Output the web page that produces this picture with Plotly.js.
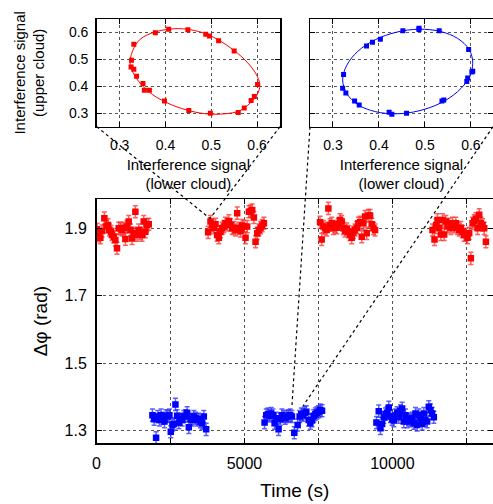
<!DOCTYPE html>
<html>
<head>
<meta charset="utf-8">
<script src="https://cdn.plot.ly/plotly-3.0.1.min.js"></script>
<style>html,body{margin:0;padding:0;background:#fff;}#chart{width:493px;height:504px;}</style>
</head>
<body>
<div id="chart"></div>
<script>
// ---- main panel data: time (s) and phase difference (rad) ----
const redTime = [20,74,130,186,265,333,389,435,491,525,581,638,694,750,807,863,920,976,1032,1089,1145,1202,1258,1314,1371,1427,1484,1540,1596,1653,1709,1766,
  3773,3852,3909,3965,4022,4078,4134,4191,4247,4304,4360,4416,4473,4529,4586,4642,4698,4755,4811,4868,4924,4980,5037,5093,5150,5206,5262,5319,5375,5432,5488,5544,5601,5657,
  7554,7610,7667,7723,7779,7836,7892,7949,8005,8061,8118,8174,8231,8287,8343,8400,8456,8513,8569,8625,8682,8738,8795,8851,8907,8964,9020,9077,9133,9189,9246,9302,9359,9415,
  11355,11423,11479,11524,11581,11637,11694,11750,11806,11863,11919,11976,12032,12088,12145,12201,12258,12314,12370,12427,12483,12540,12596,12652,12709,12765,12821,12878,12934,12991,13047,13103,13160];
const redPhase = [1.897,1.878,1.872,1.892,1.930,1.905,1.910,1.895,1.890,1.882,1.875,1.865,1.841,1.900,1.900,1.895,1.900,1.868,1.905,1.920,1.895,1.870,1.885,1.949,1.880,1.895,1.885,1.880,1.920,1.890,1.910,1.912,
  1.888,1.920,1.908,1.902,1.912,1.880,1.872,1.890,1.900,1.905,1.915,1.910,1.922,1.910,1.900,1.902,1.895,1.945,1.900,1.892,1.908,1.905,1.872,1.905,1.949,1.951,1.954,1.932,1.860,1.885,1.895,1.902,1.908,1.915,
  1.918,1.867,1.905,1.900,1.895,1.959,1.910,1.915,1.900,1.905,1.902,1.912,1.925,1.920,1.900,1.892,1.898,1.890,1.882,1.872,1.888,1.895,1.902,1.915,1.918,1.875,1.915,1.935,1.885,1.938,1.938,1.912,1.900,1.895,
  1.895,1.867,1.910,1.925,1.902,1.882,1.925,1.882,1.920,1.905,1.912,1.900,1.915,1.905,1.915,1.900,1.895,1.902,1.890,1.880,1.882,1.872,1.885,1.811,1.915,1.922,1.928,1.900,1.940,1.915,1.910,1.900,1.860];
const blueTime = [1890,1947,2014,2071,2127,2183,2240,2296,2353,2409,2465,2511,2567,2623,2668,2725,2781,2838,2894,2950,3007,3063,3120,3176,3232,3289,3345,3402,3458,3514,3571,3627,3706,
  5680,5737,5793,5849,5906,5962,6019,6075,6154,6210,6267,6323,6380,6436,6492,6549,6605,6684,6798,6866,6922,6979,7035,7091,7170,7227,7283,7340,7396,7452,7509,7565,7622,
  9460,9539,9596,9652,9708,9765,9821,9878,9934,9990,10047,10103,10160,10216,10272,10329,10385,10442,10498,10554,10611,10667,10724,10780,10836,10893,10949,11006,11062,11118,11175,11231,11288,11344,11400];
const bluePhase = [1.346,1.334,1.279,1.342,1.332,1.346,1.337,1.327,1.344,1.342,1.346,1.297,1.317,1.320,1.378,1.344,1.324,1.334,1.332,1.342,1.344,1.353,1.310,1.334,1.332,1.342,1.337,1.332,1.334,1.327,1.322,1.342,1.304,
  1.324,1.346,1.349,1.344,1.351,1.346,1.322,1.337,1.304,1.334,1.346,1.342,1.337,1.342,1.344,1.346,1.342,1.294,1.317,1.342,1.349,1.346,1.353,1.356,1.332,1.322,1.330,1.344,1.349,1.353,1.356,1.361,1.359,
  1.324,1.358,1.307,1.320,1.340,1.349,1.353,1.369,1.342,1.334,1.330,1.346,1.353,1.340,1.359,1.366,1.327,1.346,1.327,1.334,1.330,1.337,1.322,1.351,1.317,1.346,1.337,1.320,1.351,1.332,1.327,1.371,1.361,1.351,1.340];
const phaseError = 0.018;

// ---- inset 1 (red): measured points and fitted ellipse ----
const red1Lower = [0.331,0.378,0.407,0.449,0.488,0.496,0.516,0.550,0.601,0.594,0.587,0.572,0.559,0.498,0.451,0.398,0.365,0.354,0.351,0.337,0.331,0.325,0.326];
const red1Upper = [0.556,0.599,0.612,0.610,0.593,0.587,0.569,0.531,0.407,0.362,0.347,0.319,0.303,0.300,0.310,0.345,0.385,0.385,0.410,0.437,0.463,0.472,0.497];
const red1FitX = [0.323,0.328,0.345,0.378,0.420,0.455,0.490,0.518,0.550,0.578,0.598,0.606,0.600,0.585,0.562,0.530,0.495,0.455,0.415,0.380,0.352,0.333,0.323];
const red1FitY = [0.480,0.530,0.575,0.602,0.614,0.610,0.594,0.570,0.533,0.490,0.445,0.405,0.368,0.338,0.309,0.298,0.297,0.308,0.330,0.360,0.398,0.440,0.480];

// ---- inset 2 (blue): measured points and fitted ellipse ----
const blue2Lower = [0.323,0.321,0.328,0.347,0.357,0.422,0.428,0.460,0.537,0.541,0.591,0.593,0.602,0.604,0.595,0.531,0.487,0.487,0.452,0.403,0.386,0.373];
const blue2Upper = [0.444,0.393,0.375,0.345,0.331,0.304,0.296,0.300,0.345,0.349,0.418,0.431,0.453,0.456,0.537,0.606,0.611,0.616,0.606,0.575,0.564,0.550];
const blue2FitX = [0.604,0.596,0.571,0.533,0.487,0.438,0.392,0.354,0.330,0.321,0.330,0.354,0.392,0.438,0.487,0.533,0.571,0.596,0.604];
const blue2FitY = [0.486,0.537,0.578,0.604,0.612,0.601,0.573,0.530,0.478,0.424,0.373,0.332,0.306,0.298,0.309,0.337,0.380,0.432,0.486];

const mainXTicks = [0, 2500, 5000, 7500, 10000, 12500];
const mainXLabels = ['0', '', '5000', '', '10000', ''];
const mainYTicks = [1.3, 1.5, 1.7, 1.9];
const insetTicks = [0.3, 0.4, 0.5, 0.6];
const insetLabels = ['0.3', '0.4', '0.5', '0.6'];

const FONT = 'Liberation Sans, Arial, Helvetica, sans-serif';
const RED = '#ff0000', BLUE = '#0000ff';
const W = 493, H = 504;
const px = v => v / W, py = v => 1 - v / H;

const traces = [
  {x: redTime, y: redPhase, type: 'scatter', mode: 'markers', xaxis: 'x', yaxis: 'y',
   marker: {symbol: 'square', size: 6.5, color: RED},
   error_y: {type: 'constant', value: phaseError, color: 'rgba(255,40,40,0.75)', thickness: 1.5, width: 2.5}},
  {x: blueTime, y: bluePhase, type: 'scatter', mode: 'markers', xaxis: 'x', yaxis: 'y',
   marker: {symbol: 'square', size: 6.5, color: BLUE},
   error_y: {type: 'constant', value: phaseError, color: 'rgba(40,40,255,0.75)', thickness: 1.5, width: 2.5}},
  {x: red1FitX, y: red1FitY, type: 'scatter', mode: 'lines', xaxis: 'x2', yaxis: 'y2',
   line: {color: RED, width: 1, shape: 'spline', smoothing: 1}},
  {x: red1Lower, y: red1Upper, type: 'scatter', mode: 'markers', xaxis: 'x2', yaxis: 'y2',
   marker: {symbol: 'square', size: 5, color: RED}},
  {x: blue2FitX, y: blue2FitY, type: 'scatter', mode: 'lines', xaxis: 'x3', yaxis: 'y3',
   line: {color: BLUE, width: 1, shape: 'spline', smoothing: 1}},
  {x: blue2Lower, y: blue2Upper, type: 'scatter', mode: 'markers', xaxis: 'x3', yaxis: 'y3',
   marker: {symbol: 'square', size: 5, color: BLUE}}
];

const axBase = {
  showline: true, linecolor: '#000', linewidth: 1.5, mirror: 'ticks',
  ticks: 'inside', ticklen: 5, tickcolor: '#000', tickwidth: 1,
  showgrid: true, gridcolor: '#555', griddash: 'dot', gridwidth: 1,
  zeroline: false, automargin: false
};

const layout = {
  width: W, height: H,
  margin: {l: 0, r: 0, t: 0, b: 0},
  paper_bgcolor: '#fff', plot_bgcolor: 'rgba(0,0,0,0)',
  showlegend: false,
  font: {family: FONT, color: '#000'},
  xaxis: Object.assign({}, axBase, {
    domain: [px(96.5), 1], anchor: 'y', range: [0, 13400],
    tickvals: mainXTicks, ticktext: mainXLabels, tickfont: {size: 16},
    ticklabelstandoff: 5,
    title: {text: 'Time (s)', font: {size: 19}, standoff: 13}
  }),
  yaxis: Object.assign({}, axBase, {
    domain: [py(443), py(199.3)], anchor: 'x', range: [1.2635, 1.986],
    tickvals: mainYTicks, tickformat: '.1f', tickfont: {size: 16},
    ticklabelstandoff: 5,
    title: {text: 'Δφ (rad)', font: {size: 19}, standoff: 12}
  }),
  xaxis2: Object.assign({}, axBase, {
    domain: [px(96.7), px(280)], anchor: 'y2', range: [0.25, 0.65],
    tickvals: insetTicks, ticktext: insetLabels, tickfont: {size: 14},
    ticklabelstandoff: 5,
    title: {text: 'Interference signal<br>(lower cloud)', font: {size: 15}, standoff: 7}
  }),
  yaxis2: Object.assign({}, axBase, {
    domain: [py(126.7), py(19)], anchor: 'x2', range: [0.25, 0.65],
    tickvals: insetTicks, ticktext: insetLabels, tickfont: {size: 14},
    ticklabelstandoff: 4,
    title: {text: 'Interference signal<br>(upper cloud)', font: {size: 15}, standoff: 20}
  }),
  xaxis3: Object.assign({}, axBase, {
    domain: [px(310), 1], anchor: 'y3', range: [0.25, 0.648],
    tickvals: insetTicks, ticktext: insetLabels, tickfont: {size: 14},
    ticklabelstandoff: 5,
    title: {text: 'Interference signal<br>(lower cloud)', font: {size: 15}, standoff: 7}
  }),
  yaxis3: Object.assign({}, axBase, {
    domain: [py(126.7), py(19)], anchor: 'x3', range: [0.25, 0.65],
    tickvals: insetTicks, showticklabels: false
  }),
  shapes: [
    [96.7, 126.7, 210, 218.5], [280, 126.7, 210, 218.5],
    [310, 126.7, 292, 405], [493, 126.7, 303, 406]
  ].map(s => ({type: 'line', xref: 'paper', yref: 'paper',
    x0: px(s[0]), y0: py(s[1]), x1: px(s[2]), y1: py(s[3]),
    line: {color: '#000', width: 1.2, dash: 'dot'}, layer: 'above'}))
};

Plotly.newPlot('chart', traces, layout, {staticPlot: true, displayModeBar: false});
</script>
</body>
</html>
